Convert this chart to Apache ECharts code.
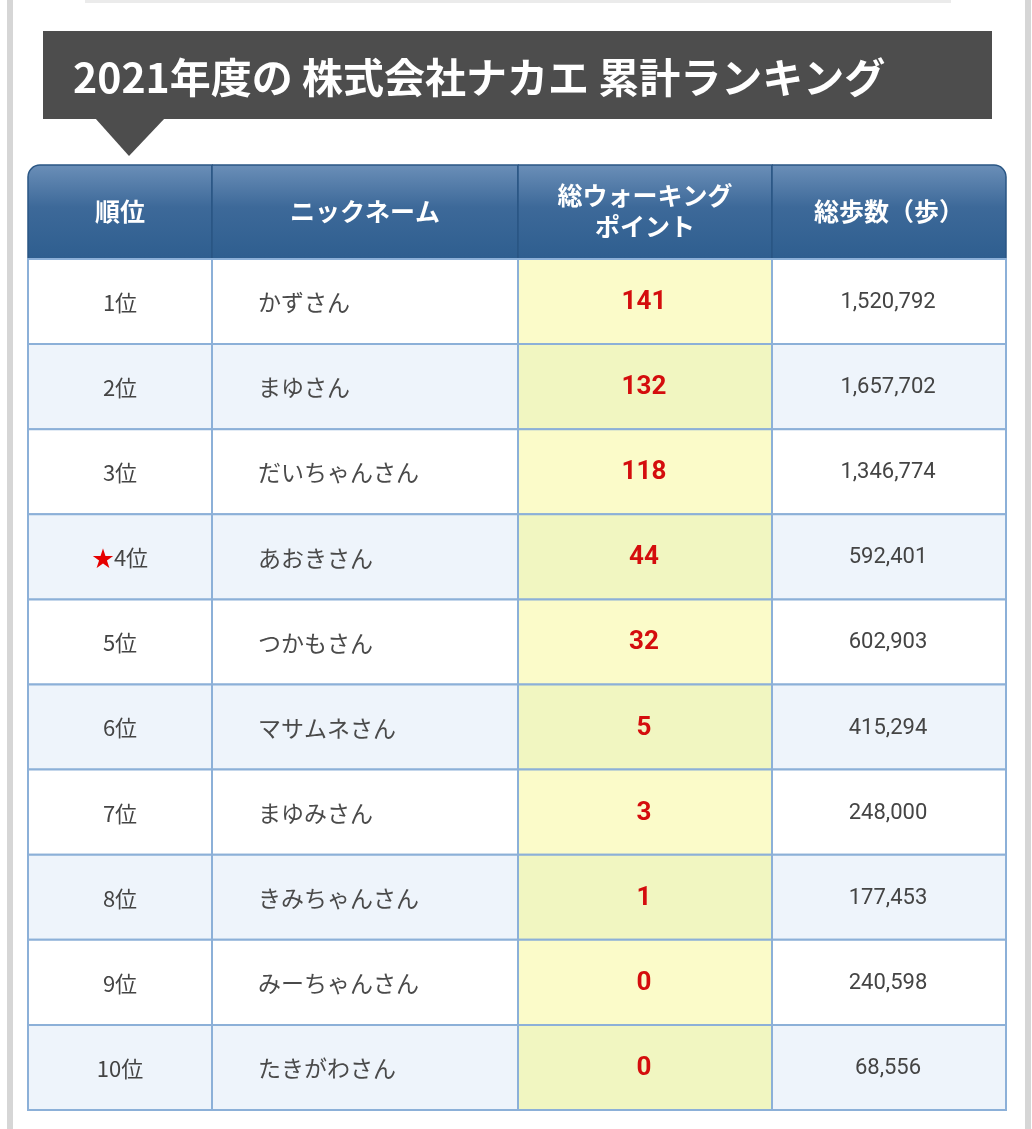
<!DOCTYPE html>
<html>
<head>
<meta charset="utf-8">
<script src="https://cdn.jsdelivr.net/npm/echarts@6/dist/echarts.min.js"></script>
<style>
html,body{margin:0;padding:0;background:#fff;}
#c{width:1032px;height:1129px;}
</style>
</head>
<body>
<div id="c"></div>
<script>
// ---- data ----
const titleText = '2021年度の 株式会社ナカエ 累計ランキング';
const headers = ['順位', 'ニックネーム', '総ウォーキング\nポイント', '総歩数（歩）'];
const ranks = ['1位', '2位', '3位', '4位', '5位', '6位', '7位', '8位', '9位', '10位'];
const starredRanks = ['4位'];
const names = ['かずさん', 'まゆさん', 'だいちゃんさん', 'あおきさん', 'つかもさん', 'マサムネさん', 'まゆみさん', 'きみちゃんさん', 'みーちゃんさん', 'たきがわさん'];
const points = [141, 132, 118, 44, 32, 5, 3, 1, 0, 0];
const steps = [1520792, 1657702, 1346774, 592401, 602903, 415294, 248000, 177453, 240598, 68556];

// ---- layout ----
const FONT = '"Noto Sans CJK JP", Roboto, "Noto Sans", sans-serif';
const colLeft = [28, 212, 518, 772];
const colWidth = [184, 306, 254, 234];
const headTop = 165, headH = 94;
const bodyTop = 259, bodyH = 851;
const BORDER = '#8cb0d8';

const fmt = n => n.toLocaleString('en-US');

const grids = [], xAxes = [], yAxes = [], series = [];

function addGrid(left, top, width, height, cats) {
  const gi = grids.length;
  grids.push({ left, top, width, height, containLabel: false });
  xAxes.push({ type: 'value', gridIndex: gi, min: 0, max: 1, show: false });
  yAxes.push({ type: 'category', gridIndex: gi, data: cats, inverse: true, show: false });
  return gi;
}

// header cells
headers.forEach((h, c) => {
  const gi = addGrid(colLeft[c], headTop, colWidth[c], headH, ['header']);
  series.push({
    type: 'custom', xAxisIndex: gi, yAxisIndex: gi, silent: true,
    data: [[0, 0]],
    renderItem: (params, api) => {
      const cs = params.coordSys;
      const yc = api.coord([0, api.value(1)])[1];
      const bh = api.size([0, 1])[1];
      const y = yc - bh / 2;
      let r = [0, 0, 0, 0];
      if (c === 0) r = [12, 0, 0, 0];
      if (c === headers.length - 1) r = [0, 12, 0, 0];
      return {
        type: 'group',
        children: [
          {
            type: 'rect',
            shape: { x: cs.x, y: y, width: cs.width, height: bh, r },
            style: {
              fill: new echarts.graphic.LinearGradient(0, 0, 0, 1, [
                { offset: 0, color: '#6b8fb8' },
                { offset: 0.45, color: '#3d6999' },
                { offset: 1, color: '#2e5e8f' }
              ]),
              stroke: '#2a5684', lineWidth: 1.5
            }
          },
          {
            type: 'text',
            style: {
              text: h, x: cs.x + cs.width / 2, y: yc - 1,
              align: 'center', verticalAlign: 'middle',
              fill: '#ffffff', font: 'bold 25px ' + FONT, lineHeight: 31
            }
          }
        ]
      };
    }
  });
});

// body cells
const colTexts = [
  i => ranks[i],
  i => names[i],
  i => String(points[i]),
  i => fmt(steps[i])
];

colLeft.forEach((lx, c) => {
  const gi = addGrid(lx, bodyTop, colWidth[c], bodyH, ranks);
  series.push({
    type: 'custom', xAxisIndex: gi, yAxisIndex: gi, silent: true,
    data: ranks.map((r, i) => [0, i]),
    renderItem: (params, api) => {
      const cs = params.coordSys;
      const i = api.value(1);
      const yc = api.coord([0, i])[1];
      const bh = api.size([0, 1])[1];
      const y = yc - bh / 2;
      const even = i % 2 === 1;
      let fill = even ? '#eef4fb' : '#ffffff';
      if (c === 2) fill = even ? '#f1f6c1' : '#fbfbc9';
      let textEl;
      if (c === 0) {
        const star = starredRanks.indexOf(ranks[i]) >= 0;
        textEl = {
          type: 'text',
          style: {
            text: (star ? '{s|★}' : '') + '{t|' + ranks[i] + '}',
            x: cs.x + cs.width / 2, y: yc + 1, align: 'center', verticalAlign: 'middle',
            rich: {
              s: { fill: '#e60000', font: '22px ' + FONT },
              t: { fill: '#444444', font: '22px ' + FONT }
            }
          }
        };
      } else if (c === 1) {
        textEl = {
          type: 'text',
          style: {
            text: names[i], x: cs.x + 46, y: yc + 1, align: 'left', verticalAlign: 'middle',
            fill: '#4a4a4a', font: '23px ' + FONT
          }
        };
      } else if (c === 2) {
        textEl = {
          type: 'text',
          style: {
            text: colTexts[2](i), x: cs.x + cs.width / 2 - 1, y: yc + 1, align: 'center', verticalAlign: 'middle',
            fill: '#d40d0d', font: 'bold 26px Roboto, "Noto Sans", sans-serif'
          }
        };
      } else {
        textEl = {
          type: 'text',
          style: {
            text: colTexts[3](i), x: cs.x + cs.width / 2 - 1, y: yc + 1, align: 'center', verticalAlign: 'middle',
            fill: '#444444', font: '22px Roboto, "Noto Sans", sans-serif'
          }
        };
      }
      return {
        type: 'group',
        children: [
          {
            type: 'rect',
            shape: { x: cs.x, y: y, width: cs.width, height: bh },
            style: { fill, stroke: BORDER, lineWidth: 2 }
          },
          textEl
        ]
      };
    }
  });
});

const chart = echarts.init(document.getElementById('c'), null, { renderer: 'canvas' });
chart.setOption({
  backgroundColor: '#ffffff',
  animation: false,
  grid: grids,
  xAxis: xAxes,
  yAxis: yAxes,
  series,
  graphic: [
    // page frame decorations
    { type: 'rect', shape: { x: 7, y: 0, width: 6, height: 1129 }, style: { fill: '#d6d6d6' }, silent: true },
    { type: 'rect', shape: { x: 1025, y: 0, width: 6, height: 1129 }, style: { fill: '#d6d6d6' }, silent: true },
    { type: 'rect', shape: { x: 85, y: 0, width: 866, height: 3 }, style: { fill: '#ebebeb' }, silent: true },
    // title banner
    { type: 'rect', shape: { x: 43, y: 31, width: 949, height: 88 }, style: { fill: '#4d4d4d' }, silent: true },
    { type: 'polygon', shape: { points: [[95, 118], [165, 118], [129, 156]] }, style: { fill: '#4d4d4d' }, silent: true },
    {
      type: 'text', x: 73, y: 77, silent: true,
      style: { text: titleText, fill: '#ffffff', font: 'bold 41px ' + FONT, verticalAlign: 'middle', align: 'left' }
    }
  ]
});
</script>
</body>
</html>
